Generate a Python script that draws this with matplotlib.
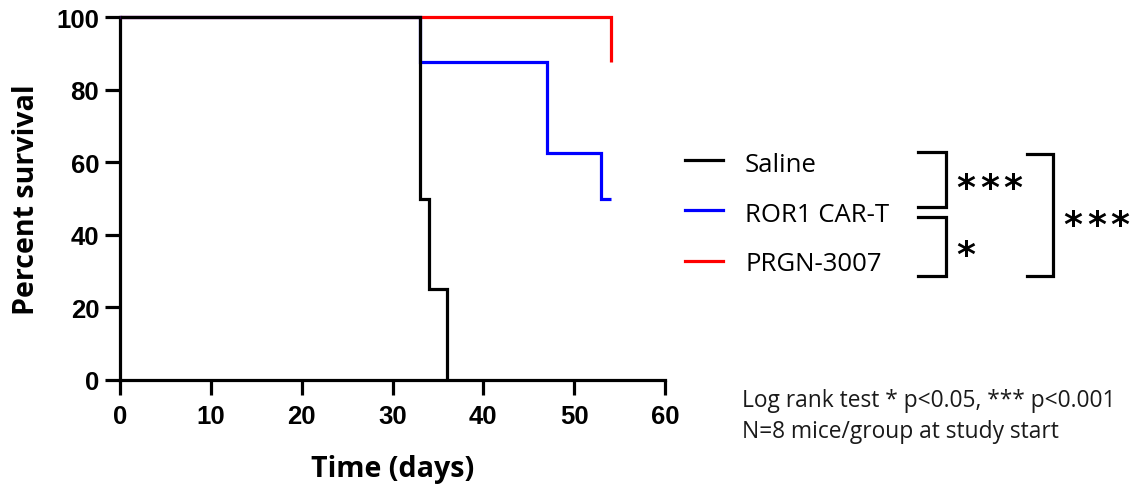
import matplotlib
matplotlib.use("Agg")
import matplotlib.pyplot as plt
from matplotlib.lines import Line2D

# Kaplan-Meier step data (days, percent survival)
saline_days = [0, 33, 34, 36]
saline_surv = [100, 50, 25, 0]
ror1_days = [0, 33, 47, 53, 54]
ror1_surv = [100, 87.5, 62.5, 50, 50]
prgn_days = [0, 54]
prgn_surv = [100, 87.5]

groups = ["Saline", "ROR1 CAR-T", "PRGN-3007"]
colors = ["#000000", "#0000ff", "#ff0000"]

x_ticks = [0, 10, 20, 30, 40, 50, 60]
y_ticks = [0, 20, 40, 60, 80, 100]


def km_steps(days, surv):
    xs, ys = [days[0]], [surv[0]]
    for i in range(1, len(days)):
        xs += [days[i], days[i]]
        ys += [surv[i - 1], surv[i]]
    return xs, ys


W, H = 1132, 485
fig = plt.figure(figsize=(W / 100, H / 100), dpi=100)
ax = fig.add_axes([120 / W, 1 - 381 / H, 545 / W, 363 / H])

lw = 2.3
for days, surv, c in [(prgn_days, prgn_surv, colors[2]),
                      (ror1_days, ror1_surv, colors[1]),
                      (saline_days, saline_surv, colors[0])]:
    xs, ys = km_steps(days, surv)
    ax.plot(xs, ys, color=c, lw=lw, clip_on=False, solid_joinstyle="miter",
            solid_capstyle="butt", zorder=3)

ax.set_xlim(0, 60)
ax.set_ylim(0, 100)
ax.set_xticks(x_ticks)
ax.set_yticks(y_ticks)
for s in ["top", "right"]:
    ax.spines[s].set_visible(False)
for s in ["left", "bottom"]:
    ax.spines[s].set_linewidth(2.3)
ax.tick_params(width=2.3, length=11, labelsize=18.5)
ax.tick_params(axis="x", pad=6)
ax.tick_params(axis="y", pad=4)
for lab in ax.get_xticklabels() + ax.get_yticklabels():
    lab.set_fontfamily("Liberation Sans")
    lab.set_fontweight("bold")


def fx(px):
    return px / W


def fy(py):
    return 1 - py / H


label_kw = dict(fontfamily="Open Sans", fontweight="bold", fontsize=20.6)
fig.text(fx(27), fy(199.5), "Percent survival", rotation=90, ha="center",
         va="center", **label_kw)
fig.text(fx(392.5), fy(477), "Time (days)", ha="center", va="baseline", **label_kw)

# Legend drawn in figure pixel coordinates
leg_line_y = [161, 211, 262]
leg_text_y = [172, 222, 271]
for name, c, ly, ty in zip(groups, colors, leg_line_y, leg_text_y):
    fig.add_artist(Line2D([fx(685), fx(723)], [fy(ly), fy(ly)], color=c, lw=2.3))
    fig.text(fx(745), fy(ty), name, fontfamily="Open Sans", fontsize=18.5,
             va="baseline", ha="left")


# Significance brackets
def bracket(x0, x1, y0, y1):
    fig.add_artist(Line2D([fx(x0), fx(x1), fx(x1), fx(x0)],
                          [fy(y0), fy(y0), fy(y1), fy(y1)],
                          color="black", lw=2.3, solid_joinstyle="miter"))


def stars(n, x_first, y, step=23.5):
    for i in range(n):
        fig.text(fx(x_first + i * step), fy(y), "*", ha="center", va="center",
                 fontfamily="DejaVu Sans", fontsize=26, fontweight="bold")


bracket(918, 946, 153, 208)
bracket(918, 946, 218, 277)
bracket(1027, 1053, 155, 277)
stars(3, 966, 189)
stars(1, 966, 256)
stars(3, 1073, 226)

note_kw = dict(fontfamily="Open Sans", fontsize=16.4, va="baseline", ha="left",
               color="#1a1a1a")
fig.text(fx(742), fy(407), "Log rank test * p<0.05, *** p<0.001", **note_kw)
fig.text(fx(742), fy(438), "N=8 mice/group at study start", **note_kw)

fig.savefig("out.png", dpi=100)
